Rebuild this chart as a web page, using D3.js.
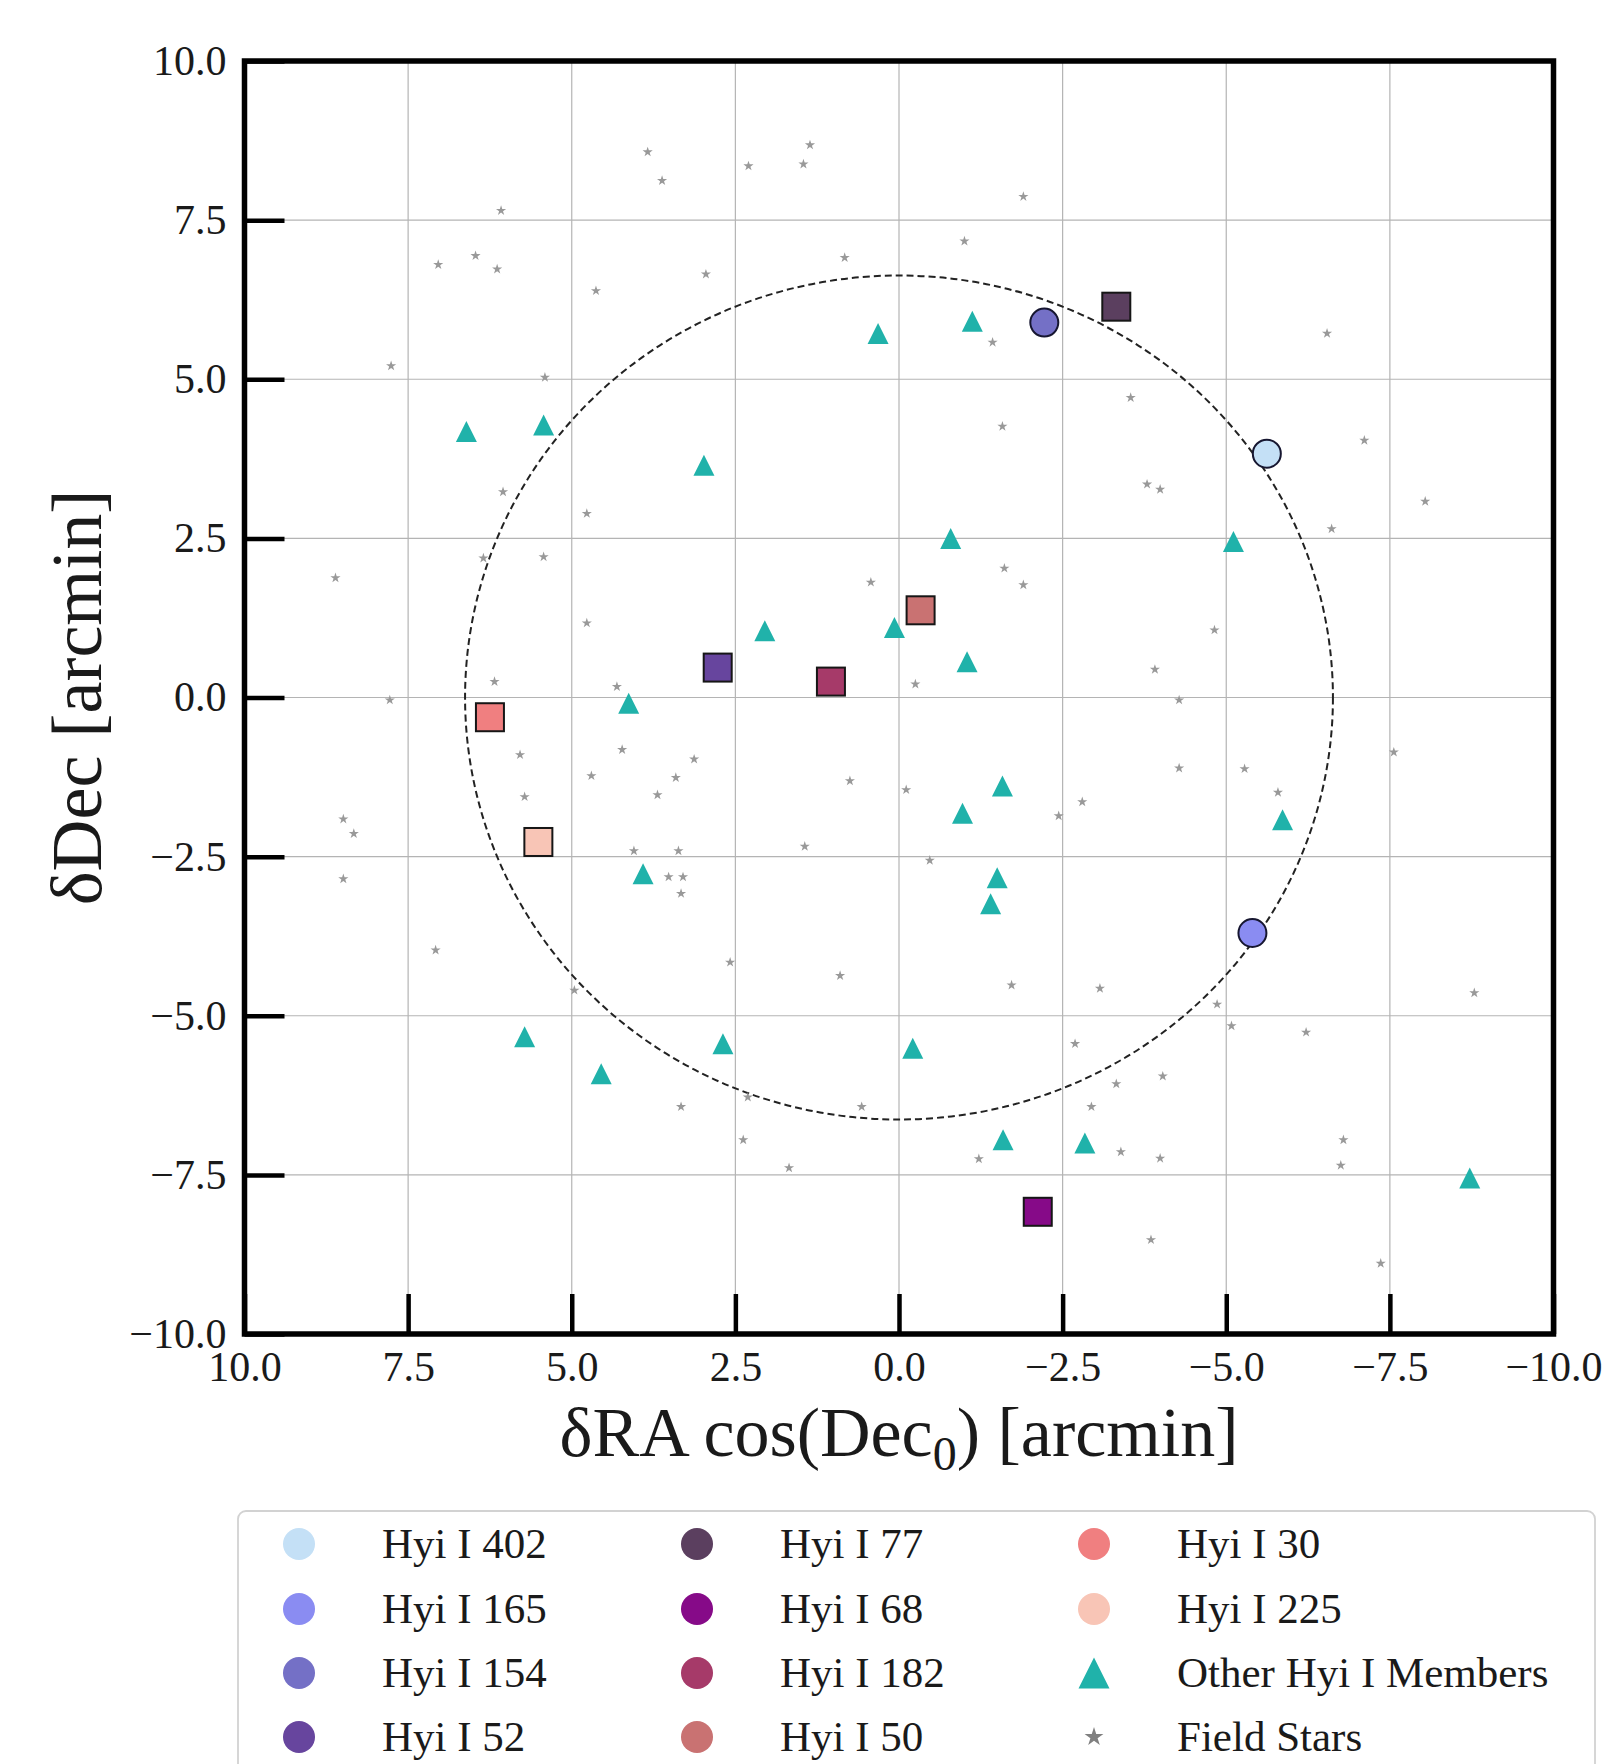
<!DOCTYPE html>
<html>
<head>
<meta charset="utf-8">
<script src="https://cdn.jsdelivr.net/npm/d3@7"></script>
<style>
  body { margin: 0; background: #fff; }
  svg { display: block; }
</style>
</head>
<body>
<script>
// named members (circles = first three, squares = the rest)
const starNames = ['Hyi I 402', 'Hyi I 165', 'Hyi I 154', 'Hyi I 52', 'Hyi I 77',
                   'Hyi I 68', 'Hyi I 182', 'Hyi I 50', 'Hyi I 30', 'Hyi I 225'];
const starColors = ['#c4e0f6', '#8a8cf2', '#7470c6', '#67459e', '#5b3f5f',
                    '#860a88', '#a63a69', '#c97272', '#f07f80', '#f8c5b6'];
const starShapes = ['circle', 'circle', 'circle', 'square', 'square',
                    'square', 'square', 'square', 'square', 'square'];
const starRA  = [-5.62, -5.40, -2.22, 2.77, -3.32, -2.12, 1.04, -0.33, 6.25, 5.51];
const starDec = [ 3.83, -3.70,  5.89, 0.47,  6.14, -8.08, 0.25,  1.37, -0.31, -2.27];

// other Hyi I members (triangles)
const otherRA  = [6.61, 5.43, 2.98, 0.32, -1.12, -0.79, 2.05, 0.07, -1.04, 4.13, -5.11, -5.86,
                  -1.58, -0.97, -1.50, -1.40, 3.91, 5.72, 4.55, 2.69, -0.21, -1.59, -2.84, -8.72];
const otherDec = [4.18, 4.28, 3.65, 5.72, 5.91, 2.50, 1.05, 1.10, 0.56, -0.09, 2.45, -1.92,
                  -1.39, -1.82, -2.83, -3.24, -2.77, -5.33, -5.91, -5.44, -5.51, -6.95, -7.00, -7.55];

// field stars
const fieldRA  = [6.08, 7.04, 6.47, 6.14, 7.76, 5.41, 6.05,
                  3.84, 3.62, 2.30, 1.36, 1.46, -1.90, -1.00, 0.83, 2.95, 4.63, -1.43, -1.58,
                  -6.54, -3.54, -3.79, -3.99, -7.11,
                  -8.04, -6.61, -4.82, -3.91, -4.28, -7.56, -4.28, -5.28, -5.79,
                  8.61, 6.35, 6.18, 7.78, 5.79, 5.72, 8.49, 8.33, 8.49, 7.08, 5.43,
                  4.77, 0.43, -1.61, -1.90, 4.77, 4.31, -0.25, 4.23, 3.13, 4.70, 3.41, 3.69,
                  0.75, -0.11, -2.80, -2.44, 1.44, 4.05, 3.37, -0.47, 3.52, 3.30, 3.33, 2.58, 0.90,
                  -1.72, 4.96, -2.69, 2.31, 3.33, 0.57, -2.94, 2.38, 1.68, -1.22,
                  -3.07, -4.86, -5.08, -8.79, -6.22, -3.32, -4.03, -3.39, -3.99, -6.79, -6.75, -3.85, -7.36];
const fieldDec = [7.65, 6.80, 6.94, 6.73, 5.21, 5.03, 3.23,
                  8.57, 8.12, 8.35, 8.68, 8.38, 7.87, 7.17, 6.91, 6.65, 6.39, 5.58, 4.26,
                  5.72, 4.71, 3.35, 3.27, 4.04,
                  3.08, 2.65, 1.06, 0.44, -0.04, -0.86, -1.11, -1.12, -1.49,
                  1.88, 2.19, 0.25, -0.04, -0.90, -1.56, -1.91, -2.14, -2.85, -3.97, 2.21,
                  2.89, 1.81, 2.03, 1.77, 1.17, 0.17, 0.21, -0.82, -0.97, -1.23, -1.26, -1.53,
                  -1.31, -1.45, -1.64, -1.86, -2.34, -2.41, -2.41, -2.56, -2.82, -2.82, -3.08, -4.16, -4.37,
                  -4.52, -4.60, -5.44, -6.28, -6.43, -6.43, -6.43, -6.95, -7.39, -7.25,
                  -4.57, -4.82, -5.16, -4.64, -5.26, -6.07, -5.95, -7.14, -7.24, -6.95, -7.35, -8.52, -8.89];

const ringRadius = 6.63;
const tickVals = [10, 7.5, 5, 2.5, 0, -2.5, -5, -7.5, -10];

const otherColor = '#20b2aa';
const fieldColor = '#999999';
const font = '"Liberation Serif", "DejaVu Serif", serif';

let width = 1611, height = 1764;
let svg = d3.select('body').append('svg').attr('width', width).attr('height', height);

let x = d3.scaleLinear().domain([10, -10]).range([244.5, 1553.5]);
let y = d3.scaleLinear().domain([10, -10]).range([61, 1334]);

// grid
let grid = svg.append('g').attr('stroke', '#b4b4b4').attr('stroke-width', 1.2);
grid.selectAll('.gx').data(tickVals).enter().append('line')
    .attr('x1', d => x(d)).attr('x2', d => x(d))
    .attr('y1', y(10)).attr('y2', y(-10));
grid.selectAll('.gy').data(tickVals).enter().append('line')
    .attr('y1', d => y(d)).attr('y2', d => y(d))
    .attr('x1', x(10)).attr('x2', x(-10));

// dashed half-light radius ring
svg.append('ellipse')
    .attr('cx', x(0)).attr('cy', y(0))
    .attr('rx', x(0) - x(ringRadius)).attr('ry', y(-ringRadius) - y(0))
    .attr('fill', 'none').attr('stroke', '#222')
    .attr('stroke-width', 2).attr('stroke-dasharray', '7,4');

// field stars
let starSym = d3.symbol().type(d3.symbolStar).size(32);
svg.append('g').selectAll('path').data(fieldRA).enter().append('path')
    .attr('d', starSym)
    .attr('transform', (d, i) => `translate(${x(d)},${y(fieldDec[i])})`)
    .attr('fill', fieldColor);

// triangle like matplotlib '^' (centred on its box)
function tri(w) {
    return `M0,${-w / 2}L${w / 2},${w / 2}L${-w / 2},${w / 2}Z`;
}

svg.append('g').selectAll('path').data(otherRA).enter().append('path')
    .attr('d', tri(21))
    .attr('transform', (d, i) => `translate(${x(d)},${y(otherDec[i])})`)
    .attr('fill', otherColor);

// named members
let named = svg.append('g');
starNames.forEach(function(n, i) {
    let cx = x(starRA[i]), cy = y(starDec[i]);
    if (starShapes[i] === 'circle') {
        named.append('circle')
            .attr('cx', cx).attr('cy', cy).attr('r', 14)
            .attr('fill', starColors[i]).attr('stroke', '#161630').attr('stroke-width', 2);
    } else {
        named.append('rect')
            .attr('x', cx - 14).attr('y', cy - 14).attr('width', 28).attr('height', 28)
            .attr('fill', starColors[i]).attr('stroke', '#161616').attr('stroke-width', 2);
    }
});

// axes (ticks pointing inward)
let fmt = d3.format('.1f');
let xAxis = svg.append('g')
    .attr('transform', `translate(0,${y(-10)})`)
    .call(d3.axisBottom(x).tickValues(tickVals).tickSize(-40).tickPadding(17).tickFormat(fmt));
let yAxis = svg.append('g')
    .attr('transform', `translate(${x(10)},0)`)
    .call(d3.axisLeft(y).tickValues(tickVals).tickSize(-40).tickPadding(18).tickFormat(fmt));

[xAxis, yAxis].forEach(function(a) {
    a.select('.domain').remove();
    a.attr('font-family', font).attr('font-size', 42);
    a.selectAll('.tick line').attr('stroke', '#000').attr('stroke-width', 4.5);
    a.selectAll('.tick text').attr('fill', '#1a1a1a');
});

// spines
svg.append('rect')
    .attr('x', x(10)).attr('y', y(10))
    .attr('width', x(-10) - x(10)).attr('height', y(-10) - y(10))
    .attr('fill', 'none').attr('stroke', '#000').attr('stroke-width', 5.5);

// axis labels
let xl = svg.append('text')
    .attr('x', (x(10) + x(-10)) / 2).attr('y', 1456)
    .attr('text-anchor', 'middle')
    .attr('font-family', font).attr('font-size', 70).attr('fill', '#1a1a1a');
xl.append('tspan').text('δRA cos(Dec');
xl.append('tspan').attr('font-size', 48).attr('dy', 14).text('0');
xl.append('tspan').attr('dy', -14).text(') [arcmin]');

svg.append('text')
    .attr('transform', `translate(101,${(y(10) + y(-10)) / 2}) rotate(-90)`)
    .attr('text-anchor', 'middle')
    .attr('font-family', font).attr('font-size', 72).attr('fill', '#1a1a1a')
    .text('δDec [arcmin]');

// legend
let legendItems = starNames.map((n, i) => ({label: n, color: starColors[i], kind: 'dot'}));
legendItems.push({label: 'Other Hyi I Members', color: otherColor, kind: 'tri'});
legendItems.push({label: 'Field Stars', color: fieldColor, kind: 'star'});

let colX = [299, 697, 1094];
let rowY = [1544, 1609, 1673, 1737];

let legend = svg.append('g');
legend.append('rect')
    .attr('x', 238).attr('y', 1511).attr('width', 1357).attr('height', 320)
    .attr('rx', 8).attr('fill', '#fff').attr('stroke', '#d2d2d2').attr('stroke-width', 1.8);

legendItems.forEach(function(d, i) {
    let cx = colX[Math.floor(i / 4)], cy = rowY[i % 4];
    if (d.kind === 'dot') {
        legend.append('circle').attr('cx', cx).attr('cy', cy).attr('r', 16).attr('fill', d.color);
    } else if (d.kind === 'tri') {
        legend.append('path').attr('d', tri(31))
            .attr('transform', `translate(${cx},${cy})`).attr('fill', d.color);
    } else {
        legend.append('path').attr('d', d3.symbol().type(d3.symbolStar).size(110))
            .attr('transform', `translate(${cx},${cy})`).attr('fill', '#808080');
    }
    legend.append('text')
        .attr('x', cx + 83).attr('y', cy + 14)
        .attr('font-family', font).attr('font-size', 43).attr('fill', '#1a1a1a')
        .text(d.label);
});
</script>
</body>
</html>
